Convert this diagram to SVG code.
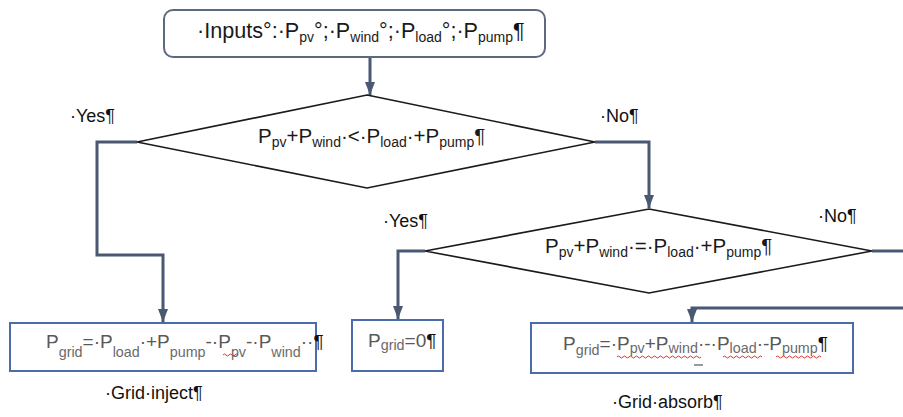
<svg xmlns="http://www.w3.org/2000/svg" width="903" height="417" viewBox="0 0 903 417">
  <defs>
    <marker id="arrow" viewBox="0 0 13 10" refX="13" refY="5" markerWidth="13" markerHeight="10" markerUnits="userSpaceOnUse" orient="auto">
      <path d="M0,0 L13,5 L0,10 z" fill="#4a5872"/>
    </marker>
    <style>
      text { font-family: "Liberation Sans", Arial, sans-serif; }
      .start { fill: #fff; stroke: #5d6a7e; stroke-width: 2; }
      .decision { fill: #fff; stroke: #1a1a1a; stroke-width: 1.6; }
      .result { fill: #fff; stroke: #4a6cab; stroke-width: 2; }
      .conn { fill: none; stroke: #4a5872; stroke-width: 3; marker-end: url(#arrow); }
      .conn-plain { fill: none; stroke: #4a5872; stroke-width: 3; }
      .main { font-size: 21.6px; fill: #1a1a1a; }
      .cond { font-size: 20.5px; fill: #1a1a1a; }
      .sub { font-size: 14px; }
      .res { font-size: 19px; fill: #595959; }
      .rsub { font-size: 14.3px; fill: #6a6a6a; }
      .mark { fill: #111; }
      .label { font-size: 18px; fill: #111; }
      .spell { fill: none; stroke: #e03030; stroke-width: 1; }
    </style>
  </defs>

  <!-- connectors -->
  <g id="connectors">
    <path class="conn" d="M370 57 V95"/>
    <path class="conn" d="M137 142 H97 V255 H163 V322"/>
    <path class="conn" d="M595 142 H649 V208"/>
    <path class="conn" d="M425 251 H398 V319"/>
    <path class="conn-plain" d="M872 251 H903"/>
    <path class="conn" d="M903 308 H692 V322"/>
  </g>

  <!-- inputs -->
  <g id="inputs">
    <rect class="start" x="164" y="10" width="381" height="47" rx="9"/>
    <text class="main" x="197" y="38">·Inputs°:·P<tspan class="sub" dy="4">pv</tspan><tspan dy="-4">°;·P</tspan><tspan class="sub" dy="4">wind</tspan><tspan dy="-4">°;·P</tspan><tspan class="sub" dy="4">load</tspan><tspan dy="-4">°;·P</tspan><tspan class="sub" dy="4">pump</tspan><tspan class="mark" dy="-4">¶</tspan></text>
  </g>

  <!-- first test -->
  <g id="decision-less">
    <polygon class="decision" points="367,95 595,142 367,188 137,142"/>
    <text class="cond" x="258" y="143">P<tspan class="sub" dy="4">pv</tspan><tspan dy="-4">+P</tspan><tspan class="sub" dy="4">wind</tspan><tspan dy="-4">·&lt;·P</tspan><tspan class="sub" dy="4">load</tspan><tspan dy="-4">·+P</tspan><tspan class="sub" dy="4">pump</tspan><tspan dy="-4">¶</tspan></text>
  </g>

  <!-- second test -->
  <g id="decision-equal">
    <polygon class="decision" points="649,209 872,251 649,293 425,251"/>
    <text class="cond" x="545" y="253">P<tspan class="sub" dy="4">pv</tspan><tspan dy="-4">+P</tspan><tspan class="sub" dy="4">wind</tspan><tspan dy="-4">·=·P</tspan><tspan class="sub" dy="4">load</tspan><tspan dy="-4">·+P</tspan><tspan class="sub" dy="4">pump</tspan><tspan dy="-4">¶</tspan></text>
  </g>

  <!-- branch labels -->
  <g id="labels">
    <text class="label" x="70" y="122">·Yes¶</text>
    <text class="label" x="600" y="122">·No¶</text>
    <text class="label" x="383" y="227">·Yes¶</text>
    <text class="label" x="818" y="222">·No¶</text>
  </g>

  <!-- grid inject -->
  <g id="grid-inject">
    <rect class="result" x="10" y="323" width="306" height="48"/>
    <text class="res" x="46" y="347.5" font-size="18.6">P<tspan class="rsub" dy="9">grid</tspan><tspan dy="-9">=·P</tspan><tspan class="rsub" dy="9">load</tspan><tspan dy="-9">·+P</tspan><tspan class="rsub" dy="9">pump</tspan><tspan dy="-9">-·P</tspan><tspan class="rsub" dy="9" fill="#c0504d">pv</tspan><tspan dy="-9">-·P</tspan><tspan class="rsub" dy="9">wind</tspan><tspan dy="-9">··</tspan><tspan class="mark">¶</tspan></text>
    <path class="spell" d="M223 355 q1.5 -2 3 0 t3 0 t3 0 t3 0 t3 0"/>
    <text class="label" x="105" y="399" font-size="19">·Grid·inject¶</text>
  </g>

  <!-- zero grid exchange -->
  <g id="grid-zero">
    <rect class="result" x="352" y="320" width="91" height="51"/>
    <text class="res" x="368" y="347">P<tspan class="rsub" dy="3">grid</tspan><tspan dy="-3">=0</tspan><tspan class="mark">¶</tspan></text>
  </g>

  <!-- grid absorb -->
  <g id="grid-absorb">
    <rect class="result" x="531" y="323" width="322" height="50"/>
    <text class="res" x="563" y="350">P<tspan class="rsub" dy="5">grid</tspan><tspan dy="-5">=·P</tspan><tspan class="rsub" dy="3">pv</tspan><tspan dy="-3">+P</tspan><tspan class="rsub" dy="3">wind</tspan><tspan dy="-3">·-·P</tspan><tspan class="rsub" dy="3">load</tspan><tspan dy="-3">·-P</tspan><tspan class="rsub" dy="3">pump</tspan><tspan class="mark" dy="-3">¶</tspan></text>
    <path class="spell" d="M617 357 q1.5 -2 3 0 t3 0 t3 0 t3 0 t3 0 t3 0 t3 0 t3 0 t3 0 t3 0 t3 0 t3 0 t3 0 t3 0 t3 0 t3 0 t3 0 t3 0 t3 0 t3 0 t3 0 t3 0 t3 0 t3 0 t3 0 t3 0 t3 0 t3 0"/>
    <path class="spell" d="M723 357 q1.5 -2 3 0 t3 0 t3 0 t3 0 t3 0 t3 0 t3 0 t3 0 t3 0 t3 0 t3 0 t3 0 t3 0"/>
    <path class="spell" d="M776 357 q1.5 -2 3 0 t3 0 t3 0 t3 0 t3 0 t3 0 t3 0 t3 0 t3 0 t3 0 t3 0 t3 0 t3 0 t3 0 t3 0"/>
    <path d="M694 365 H703" stroke="#555" stroke-width="1.2"/>
    <text class="label" x="612" y="408" font-size="19">·Grid·absorb¶</text>
  </g>
</svg>
